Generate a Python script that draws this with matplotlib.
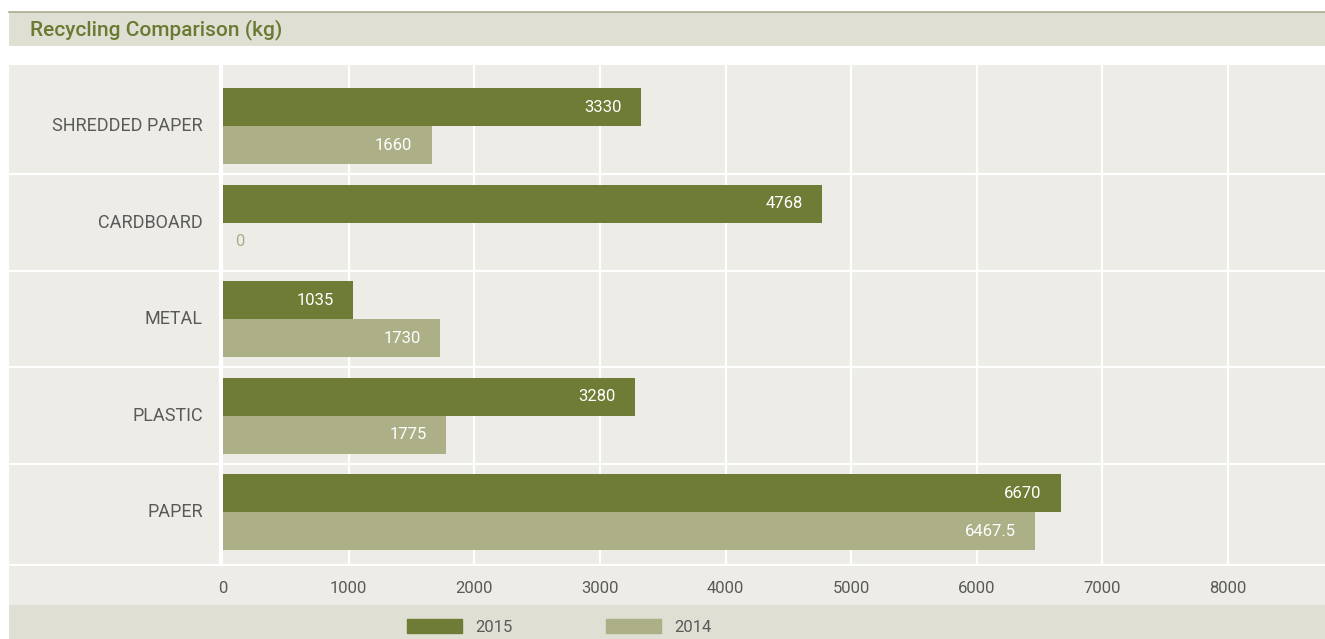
import matplotlib
matplotlib.use('Agg')
import matplotlib.pyplot as plt
from matplotlib.patches import Rectangle
from matplotlib.lines import Line2D
import numpy as np

# Datos
categories = ["PAPER", "PLASTIC", "METAL", "CARDBOARD", "SHREDDED PAPER"]
values_2015 = [6670, 3280, 1035, 4768, 3330]
values_2014 = [6467.5, 1775, 1730, 0, 1660]
x_ticks = [0, 1000, 2000, 3000, 4000, 5000, 6000, 7000, 8000]

DARK = '#6f7c35'
LIGHT = '#adb087'
PANEL = '#edece6'
STRIP = '#dfdfd3'
TEXT = '#5a5a5a'

W, H = 1325, 639
plt.rcParams['font.family'] = ['Roboto', 'DejaVu Sans']

fig = plt.figure(figsize=(W / 100, H / 100), dpi=100)
fig.patch.set_facecolor('white')


def box(x, y, w, h):
    """pixeles (origen arriba-izquierda) -> fraccion de figura"""
    return x / W, 1 - (y + h) / H, w / W, h / H


def add_rect(x, y, w, h, color):
    l, b, ww, hh = box(x, y, w, h)
    fig.patches.append(Rectangle((l, b), ww, hh, transform=fig.transFigure,
                                 facecolor=color, edgecolor='none', zorder=-5))


# Cabecera
add_rect(9, 12, 1316, 34, STRIP)
fig.lines.append(Line2D([9 / W, 1], [1 - 11.5 / H] * 2, transform=fig.transFigure,
                        color='#a9ab8d', lw=1.2))
fig.text(30 / W, 1 - 30 / H, "Recycling Comparison (kg)", color='#6b7a33',
         fontsize=15, fontweight='medium', va='center', ha='left')

# Panel y franja de leyenda
add_rect(9, 65, 1316, 541, PANEL)
add_rect(9, 605, 1316, 34, STRIP)

# Ejes: 0 en x=223, 125.6 px por 1000
ppu = 125.625 / 1000
x_left = -(223 - 9) / ppu
x_right = (1325 - 223) / ppu
ax = fig.add_axes(box(9, 65, 1316, 501))
ax.set_facecolor('none')
ax.set_zorder(2)
ax.set_xlim(x_left, x_right)
# centro de PAPER en y=512, SHREDDED en y=126
upu = (512 - 126) / 4
ax.set_ylim(-(566 - 512) / upu, 4 + (126 - 65) / upu)

for s in ax.spines.values():
    s.set_visible(False)

# rejilla blanca
for t in x_ticks[1:]:
    ax.axvline(t, color='white', lw=1.6, zorder=1)
ax.axvline(-15, color='white', lw=3, zorder=1)
for i in range(len(categories) - 1):
    ax.axhline(i + 0.5, color='white', lw=1.6, zorder=1)
ax.axhline(ax.get_ylim()[0], color='white', lw=3, zorder=1)

ypos = np.arange(len(categories))
bh = 38 / upu
ax.barh(ypos + bh / 2, values_2015, height=bh, color=DARK, zorder=2, label='2015')
ax.barh(ypos - bh / 2, values_2014, height=bh, color=LIGHT, zorder=2, label='2014')

for y, v in zip(ypos, values_2015):
    ax.annotate(f"{v:g}", (v, y + bh / 2), xytext=(-14, 0), textcoords='offset points',
                ha='right', va='center', color='white', fontsize=12, zorder=3)
for y, v in zip(ypos, values_2014):
    if v > 0:
        ax.annotate(f"{v:g}", (v, y - bh / 2), xytext=(-14, 0), textcoords='offset points',
                    ha='right', va='center', color='white', fontsize=12, zorder=3)
    else:
        ax.annotate(f"{v:g}", (v, y - bh / 2), xytext=(9, 0), textcoords='offset points',
                    ha='left', va='center', color=LIGHT, fontsize=12, zorder=3)

# etiquetas de categorias
for y, c in zip(ypos, categories):
    ax.annotate(c, (0, y), xytext=(-14.5, 0), textcoords='offset points',
                ha='right', va='center', color=TEXT, fontsize=13)

ax.set_yticks([])
ax.set_xticks(x_ticks)
ax.set_xticklabels([str(t) for t in x_ticks], color=TEXT, fontsize=12)
ax.tick_params(axis='x', length=0, pad=11)

# Leyenda
handles = [Rectangle((0, 0), 1, 1, color=DARK), Rectangle((0, 0), 1, 1, color=LIGHT)]
fig.legend(handles, ['2015', '2014'], loc='center', bbox_to_anchor=(559 / W, 1 - 627 / H),
           ncol=2, frameon=False, handlelength=3.3, handleheight=0.9, handletextpad=0.8,
           columnspacing=5.6, labelcolor=TEXT, fontsize=12)

fig.savefig('out.png', dpi=100, facecolor=fig.get_facecolor())
plt.close(fig)
